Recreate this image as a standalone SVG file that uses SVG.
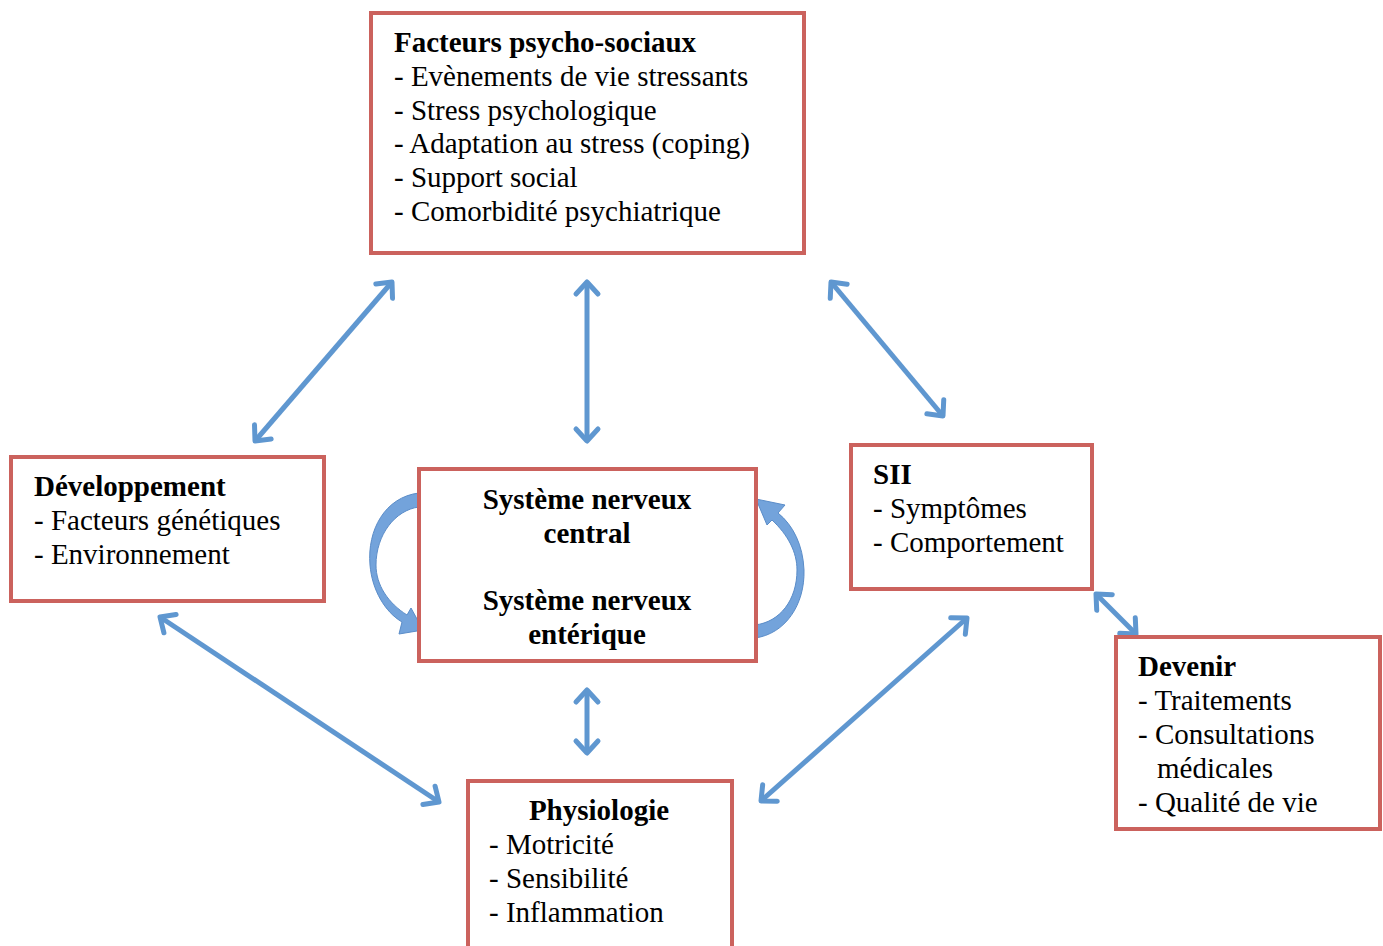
<svg xmlns="http://www.w3.org/2000/svg" width="1383" height="946" viewBox="0 0 1383 946">
<style>
.box{fill:#fff;stroke:#cb625d;stroke-width:4}
text{font-family:"Liberation Serif","Times New Roman",serif;font-size:29px;fill:#000}
.b{font-weight:bold}
.m{text-anchor:middle}
.con{stroke:#5f97d0;stroke-width:5;fill:none;marker-start:url(#ah);marker-end:url(#ah)}
.curve{fill:#73a3db;stroke:#5a8cc8;stroke-width:1}
</style>
<defs>
<marker id="ah" markerUnits="userSpaceOnUse" markerWidth="34" markerHeight="34" viewBox="-17 -17 34 34" refX="0" refY="0" orient="auto-start-reverse">
<path d="M-12,-11 L0,0 L-12,11" fill="none" stroke="#5f97d0" stroke-width="5" stroke-linecap="round" stroke-linejoin="round"/>
</marker>
</defs>
<rect width="1383" height="946" fill="#fff"/>
<g id="connectors">
<line class="con" x1="392" y1="282" x2="255" y2="441"/>
<line class="con" x1="587" y1="282" x2="587" y2="441"/>
<line class="con" x1="831" y1="282" x2="943" y2="416"/>
<line class="con" x1="160" y1="617" x2="439" y2="802"/>
<line class="con" x1="587" y1="690" x2="587" y2="753"/>
<line class="con" x1="967" y1="618" x2="761" y2="801"/>
<line class="con" x1="1096" y1="594" x2="1136" y2="634"/>
<path class="curve" d="M419,493 C385,497 367,530 370,565 C372,590 385,612 402,622 L399,634 L423,630 L411,608 L407,615 C388,603 376,585 376,565 C376,535 395,510 419,507 Z"/>
<path class="curve" d="M755,638 C785,634 805,605 804,570 C803,545 793,525 778,513 L785,505 L756,499 L767,525 L772,520 C788,535 797,552 797,570 C797,600 780,622 755,625 Z"/>
</g>
<g id="psycho">
<rect class="box" x="371" y="13" width="433" height="240"/>
<text x="394" y="52" class="b">Facteurs psycho-sociaux</text>
<text x="394" y="86">- Evènements de vie stressants</text>
<text x="394" y="120">- Stress psychologique</text>
<text x="394" y="153">- Adaptation au stress (coping)</text>
<text x="394" y="187">- Support social</text>
<text x="394" y="221">- Comorbidité psychiatrique</text>
</g>
<g id="developpement">
<rect class="box" x="11" y="457" width="313" height="144"/>
<text x="34" y="496" class="b">Développement</text>
<text x="34" y="530">- Facteurs génétiques</text>
<text x="34" y="564">- Environnement</text>
</g>
<g id="snc">
<rect class="box" x="419" y="469" width="337" height="192"/>
<text x="587" y="509" class="b m">Système nerveux</text>
<text x="587" y="543" class="b m">central</text>
<text x="587" y="610" class="b m">Système nerveux</text>
<text x="587" y="644" class="b m">entérique</text>
</g>
<g id="sii">
<rect class="box" x="851" y="445" width="241" height="144"/>
<text x="873" y="484" class="b">SII</text>
<text x="873" y="518">- Symptômes</text>
<text x="873" y="552">- Comportement</text>
</g>
<g id="devenir">
<rect class="box" x="1116" y="637" width="264" height="192"/>
<text x="1138" y="676" class="b">Devenir</text>
<text x="1138" y="710">- Traitements</text>
<text x="1138" y="744">- Consultations</text>
<text x="1157" y="778">médicales</text>
<text x="1138" y="812">- Qualité de vie</text>
</g>
<g id="physiologie">
<rect class="box" x="468" y="781" width="264" height="190"/>
<text x="599" y="820" class="b m">Physiologie</text>
<text x="489" y="854">- Motricité</text>
<text x="489" y="888">- Sensibilité</text>
<text x="489" y="922">- Inflammation</text>
</g>
</svg>
